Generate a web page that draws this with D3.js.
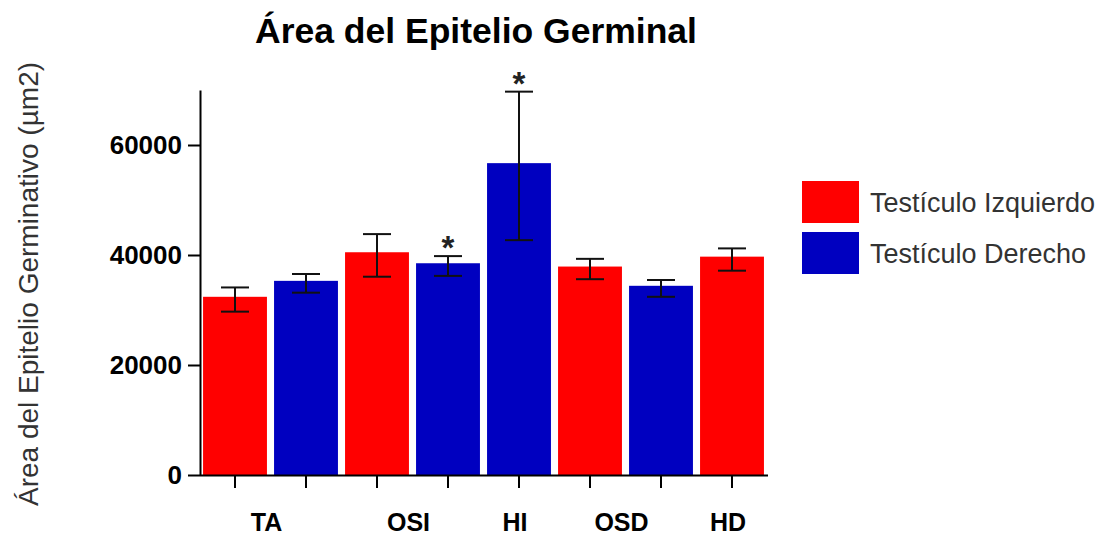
<!DOCTYPE html>
<html lang="es">
<head>
<meta charset="utf-8">
<title>Área del Epitelio Germinal</title>
<script src="https://d3js.org/d3.v7.min.js"></script>
<style>
  body { margin: 0; background: #fff; }
  text { font-family: "Liberation Sans", Arial, sans-serif; }
</style>
</head>
<body>
<script>
// bar order as read left to right
var barGroups = ["TA", "TA", "OSI", "OSI", "HI", "OSD", "OSD", "HD"];
var barSeries = ["izq", "der", "izq", "der", "der", "izq", "der", "izq"];
var barMeans  = [32400, 35300, 40500, 38500, 56700, 37900, 34400, 39700];
var errUp     = [1700, 1250, 3300, 1300, 13000, 1400, 1050, 1500];
var errDown   = [2700, 2150, 4450, 2300, 14000, 2300, 2000, 2550];
var starred   = [false, false, false, true, true, false, false, false];

var groupNames  = ["TA", "OSI", "HI", "OSD", "HD"];
var seriesKeys  = ["izq", "der"];
var seriesNames = ["Testículo Izquierdo", "Testículo Derecho"];
var yTicks      = [0, 20000, 40000, 60000];

var w = 1099, h = 537;

var color = d3.scaleOrdinal().domain(seriesKeys).range(["#ff0000", "#0000c0"]);

var x = d3.scaleBand()
    .domain(d3.range(barMeans.length))
    .range([199.5, 767.5])
    .paddingInner(0.1)
    .paddingOuter(0.05);

var y = d3.scaleLinear().domain([0, 70000]).range([475, 90]);

var svg = d3.select("body").append("svg")
    .attr("width", w)
    .attr("height", h);

// title
svg.append("text")
    .attr("x", 476)
    .attr("y", 43)
    .attr("text-anchor", "middle")
    .style("font-size", "35.5px")
    .style("font-weight", "bold")
    .attr("fill", "#000")
    .text("Área del Epitelio Germinal");

// y axis title
svg.append("text")
    .attr("transform", "translate(38,284) rotate(-90)")
    .attr("text-anchor", "middle")
    .style("font-size", "28px")
    .attr("fill", "#333")
    .text("Área del Epitelio Germinativo (µm2)");

// bars
svg.selectAll("rect.bar")
    .data(barMeans)
    .enter()
    .append("rect")
    .attr("class", "bar")
    .attr("x", function(d, i) { return x(i); })
    .attr("y", function(d) { return y(d); })
    .attr("width", x.bandwidth())
    .attr("height", function(d) { return y(0) - y(d); })
    .attr("fill", function(d, i) { return color(barSeries[i]); });

// error bars
var cap = 14;
var eb = svg.append("g").attr("stroke", "#111").attr("stroke-width", 2);
barMeans.forEach(function(m, i) {
  var cx = x(i) + x.bandwidth() / 2;
  var top = y(m + errUp[i]), bot = y(m - errDown[i]);
  eb.append("line").attr("x1", cx).attr("x2", cx).attr("y1", top).attr("y2", bot);
  eb.append("line").attr("x1", cx - cap).attr("x2", cx + cap).attr("y1", top).attr("y2", top);
  eb.append("line").attr("x1", cx - cap).attr("x2", cx + cap).attr("y1", bot).attr("y2", bot);
  if (starred[i]) {
    svg.append("text")
        .attr("x", cx)
        .attr("y", top + 3)
        .attr("text-anchor", "middle")
        .style("font-size", "33px")
        .style("font-weight", "bold")
        .attr("fill", "#222")
        .text("*");
  }
});

// y axis
var yAxis = svg.append("g")
    .attr("transform", "translate(200,0)")
    .call(d3.axisLeft(y).tickValues(yTicks).tickFormat(d3.format("d")).tickSize(12).tickPadding(6).tickSizeOuter(0));
yAxis.select(".domain").attr("stroke", "#000").attr("stroke-width", 2);
yAxis.selectAll(".tick line").attr("stroke", "#000").attr("stroke-width", 2);
yAxis.selectAll(".tick text")
    .style("font-size", "26px")
    .style("font-weight", "bold")
    .style("font-family", "'Liberation Sans', Arial, sans-serif")
    .attr("fill", "#000");

// x axis, tick per bar, labels per group
var xAxis = svg.append("g")
    .attr("transform", "translate(0," + y(0) + ")")
    .call(d3.axisBottom(x).tickFormat("").tickSize(13).tickSizeOuter(0));
xAxis.select(".domain").attr("stroke", "#000").attr("stroke-width", 2);
xAxis.selectAll(".tick line").attr("stroke", "#000").attr("stroke-width", 2);

svg.selectAll("text.group")
    .data(groupNames)
    .enter()
    .append("text")
    .attr("class", "group")
    .attr("x", function(g) {
      var idx = d3.range(barGroups.length).filter(function(i) { return barGroups[i] === g; });
      return d3.mean(idx, function(i) { return x(i) + x.bandwidth() / 2; }) - 4;
    })
    .attr("y", 531)
    .attr("text-anchor", "middle")
    .style("font-size", "25px")
    .style("font-weight", "bold")
    .attr("fill", "#000")
    .text(function(g) { return g; });

// legend
var legend = svg.append("g").attr("transform", "translate(802,181)");
var item = legend.selectAll("g")
    .data(seriesKeys)
    .enter()
    .append("g")
    .attr("transform", function(d, i) { return "translate(0," + i * 51 + ")"; });
item.append("rect")
    .attr("width", 57)
    .attr("height", 42)
    .attr("fill", function(d) { return color(d); });
item.append("text")
    .attr("x", 68)
    .attr("y", 31)
    .style("font-size", "27px")
    .attr("fill", "#333")
    .text(function(d, i) { return seriesNames[i]; });
</script>
</body>
</html>
